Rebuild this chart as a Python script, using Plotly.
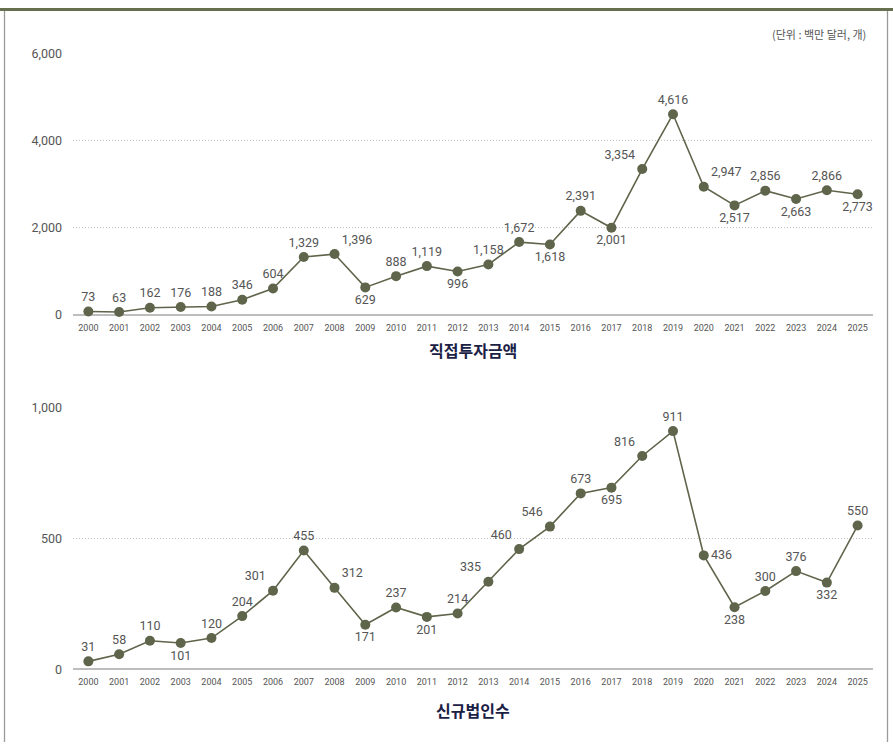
import plotly.graph_objects as go

# Years on the shared category axis
years = [str(y) for y in range(2000, 2026)]

# Direct investment amount (USD million)
invest_amount = [73, 63, 162, 176, 188, 346, 604, 1329, 1396, 629, 888, 1119, 996,
                 1158, 1672, 1618, 2391, 2001, 3354, 4616, 2947, 2517, 2856, 2663,
                 2866, 2773]
invest_pos = ["top center", "top center", "top center", "top center", "top center",
              "top center", "top center", "top center", "top right", "bottom center",
              "top center", "top center", "bottom center", "top center", "top center",
              "bottom center", "top center", "bottom center", "top left", "top center",
              "top right", "bottom center", "top center", "bottom center", "top center",
              "bottom center"]

# Number of newly established corporations
new_corps = [31, 58, 110, 101, 120, 204, 301, 455, 312, 171, 237, 201, 214, 335, 460,
             546, 673, 695, 816, 911, 436, 238, 300, 376, 332, 550]
corps_pos = ["top center", "top center", "top center", "bottom center", "top center",
             "top center", "top left", "top center", "top right", "bottom center",
             "top center", "bottom center", "top center", "top left", "top left",
             "top left", "top center", "bottom center", "top left", "top center",
             "middle right", "bottom center", "top center", "top center",
             "bottom center", "top center"]

top_title = "직접투자금액"
bottom_title = "신규법인수"
unit_note = "(단위 : 백만 달러, 개)"

W, H = 893, 749
OLIVE = "#5e654a"
GRAY_TXT = "#555555"
FONT = "Roboto, 'Noto Sans CJK KR', sans-serif"
KFONT = "'Noto Sans CJK KR', Roboto, sans-serif"


def py(px):
    return 1 - px / H


x_dom = [73 / W, 873 / W]

fig = go.Figure()

fig.add_trace(go.Scatter(
    x=years, y=invest_amount, xaxis="x", yaxis="y",
    mode="lines+markers+text",
    line=dict(color=OLIVE, width=1.6),
    marker=dict(color=OLIVE, size=10),
    texttemplate="%{y:,}", textposition=invest_pos,
    textfont=dict(family=FONT, size=12.5, color=GRAY_TXT),
    cliponaxis=False, hoverinfo="skip", showlegend=False,
))

fig.add_trace(go.Scatter(
    x=years, y=new_corps, xaxis="x2", yaxis="y2",
    mode="lines+markers+text",
    line=dict(color=OLIVE, width=1.6),
    marker=dict(color=OLIVE, size=10),
    texttemplate="%{y:,}", textposition=corps_pos,
    textfont=dict(family=FONT, size=12.5, color=GRAY_TXT),
    cliponaxis=False, hoverinfo="skip", showlegend=False,
))

xaxis_common = dict(
    type="category", range=[-0.5, 25.5], domain=x_dom,
    showgrid=False, zeroline=False, showline=False,
    ticks="", tickfont=dict(family=FONT, size=9, color=GRAY_TXT),
    ticklabelstandoff=6, fixedrange=True,
)
yaxis_common = dict(
    showgrid=True, gridcolor="#c4c4c4", griddash="1px,2px", gridwidth=1,
    zeroline=True, zerolinecolor="#bdbdbd", zerolinewidth=2,
    showline=False, ticks="",
    tickfont=dict(family=FONT, size=12.5, color=GRAY_TXT),
    tickformat=",", ticklabelstandoff=10, fixedrange=True,
)

fig.update_layout(
    width=W, height=H,
    margin=dict(l=0, r=0, t=0, b=0),
    paper_bgcolor="white", plot_bgcolor="white",
    xaxis=dict(anchor="y", **xaxis_common),
    yaxis=dict(anchor="x", domain=[py(313), py(47)], range=[0, 6000],
               tickvals=[0, 2000, 4000, 6000], **yaxis_common),
    xaxis2=dict(anchor="y2", **xaxis_common),
    yaxis2=dict(anchor="x2", domain=[py(675), py(408)], range=[0, 1000],
                tickvals=[0, 500, 1000], **yaxis_common),
    annotations=[
        dict(text=f"<b>{top_title}</b>", xref="paper", yref="paper",
             x=0.5 * (x_dom[0] + x_dom[1]), y=py(349), showarrow=False,
             font=dict(family=KFONT, size=16, color="#1b2045"),
             xanchor="center", yanchor="middle"),
        dict(text=f"<b>{bottom_title}</b>", xref="paper", yref="paper",
             x=0.5 * (x_dom[0] + x_dom[1]), y=py(716), showarrow=False,
             font=dict(family=KFONT, size=16, color="#1b2045"),
             xanchor="center", yanchor="middle"),
        dict(text=unit_note, xref="paper", yref="paper",
             x=868 / W, y=py(27), showarrow=False,
             font=dict(family=KFONT, size=11, color=GRAY_TXT),
             xanchor="right", yanchor="middle"),
    ],
    shapes=[
        # frame: thick olive band on top, thin gray sides
        dict(type="rect", xref="paper", yref="paper", x0=0, x1=1,
             y0=py(3), y1=1, fillcolor="#66704f", line=dict(width=0)),
        dict(type="line", xref="paper", yref="paper", x0=4.5 / W, x1=4.5 / W,
             y0=0, y1=py(3), line=dict(color="#9a9a9a", width=1.3)),
        dict(type="line", xref="paper", yref="paper", x0=887.5 / W, x1=887.5 / W,
             y0=0, y1=py(3), line=dict(color="#9a9a9a", width=1.3)),
    ],
)

fig.write_html("out.html")
